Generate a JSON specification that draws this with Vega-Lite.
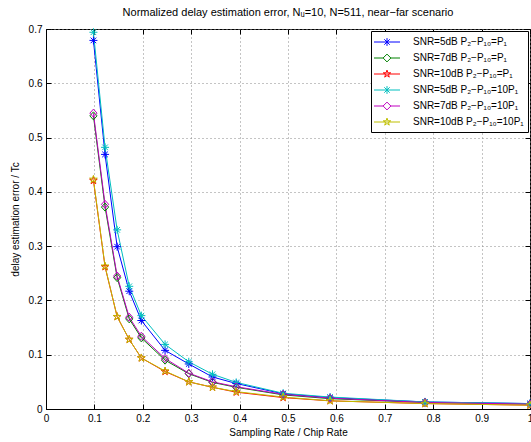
{
  "$schema": "https://vega.github.io/schema/vega-lite/v6.json",
  "width": 484,
  "height": 380,
  "autosize": "none",
  "padding": {"left": 46, "top": 29, "right": 1, "bottom": 33},
  "background": "white",
  "title": {"text": "Normalized delay estimation error, Nᵤ=10, N=511, near−far scenario", "fontSize": 11, "fontWeight": "normal", "font": "Liberation Sans", "offset": 6, "color": "black"},
  "config": {
    "view": {"stroke": "black", "strokeWidth": 1},
    "font": "Liberation Sans",
    "axis": {"labelFont": "Liberation Sans", "labelFontSize": 10, "labelColor": "black", "titleFont": "Liberation Sans", "titleFontSize": 10, "titleFontWeight": "normal", "titleColor": "black", "domainColor": "black", "tickColor": "black", "gridColor": "#888", "gridDash": [1, 3], "gridOpacity": 1}
  },
  "data": {"values": [
    {"s":"SNR=5dB P₂−P₁₀=P₁","x":0.098,"y":0.679},{"s":"SNR=5dB P₂−P₁₀=P₁","x":0.122,"y":0.469},{"s":"SNR=5dB P₂−P₁₀=P₁","x":0.147,"y":0.299},{"s":"SNR=5dB P₂−P₁₀=P₁","x":0.172,"y":0.217},{"s":"SNR=5dB P₂−P₁₀=P₁","x":0.197,"y":0.163},{"s":"SNR=5dB P₂−P₁₀=P₁","x":0.246,"y":0.108},{"s":"SNR=5dB P₂−P₁₀=P₁","x":0.295,"y":0.083},{"s":"SNR=5dB P₂−P₁₀=P₁","x":0.344,"y":0.059},{"s":"SNR=5dB P₂−P₁₀=P₁","x":0.393,"y":0.047},{"s":"SNR=5dB P₂−P₁₀=P₁","x":0.49,"y":0.028},{"s":"SNR=5dB P₂−P₁₀=P₁","x":0.587,"y":0.021},{"s":"SNR=5dB P₂−P₁₀=P₁","x":0.783,"y":0.013},{"s":"SNR=5dB P₂−P₁₀=P₁","x":1.0,"y":0.010},
    {"s":"SNR=7dB P₂−P₁₀=P₁","x":0.098,"y":0.540},{"s":"SNR=7dB P₂−P₁₀=P₁","x":0.122,"y":0.372},{"s":"SNR=7dB P₂−P₁₀=P₁","x":0.147,"y":0.242},{"s":"SNR=7dB P₂−P₁₀=P₁","x":0.172,"y":0.166},{"s":"SNR=7dB P₂−P₁₀=P₁","x":0.197,"y":0.131},{"s":"SNR=7dB P₂−P₁₀=P₁","x":0.246,"y":0.090},{"s":"SNR=7dB P₂−P₁₀=P₁","x":0.295,"y":0.065},{"s":"SNR=7dB P₂−P₁₀=P₁","x":0.344,"y":0.049},{"s":"SNR=7dB P₂−P₁₀=P₁","x":0.393,"y":0.040},{"s":"SNR=7dB P₂−P₁₀=P₁","x":0.49,"y":0.026},{"s":"SNR=7dB P₂−P₁₀=P₁","x":0.587,"y":0.019},{"s":"SNR=7dB P₂−P₁₀=P₁","x":0.783,"y":0.012},{"s":"SNR=7dB P₂−P₁₀=P₁","x":1.0,"y":0.009},
    {"s":"SNR=10dB P₂−P₁₀=P₁","x":0.098,"y":0.421},{"s":"SNR=10dB P₂−P₁₀=P₁","x":0.122,"y":0.262},{"s":"SNR=10dB P₂−P₁₀=P₁","x":0.147,"y":0.170},{"s":"SNR=10dB P₂−P₁₀=P₁","x":0.172,"y":0.128},{"s":"SNR=10dB P₂−P₁₀=P₁","x":0.197,"y":0.094},{"s":"SNR=10dB P₂−P₁₀=P₁","x":0.246,"y":0.069},{"s":"SNR=10dB P₂−P₁₀=P₁","x":0.295,"y":0.050},{"s":"SNR=10dB P₂−P₁₀=P₁","x":0.344,"y":0.040},{"s":"SNR=10dB P₂−P₁₀=P₁","x":0.393,"y":0.031},{"s":"SNR=10dB P₂−P₁₀=P₁","x":0.49,"y":0.021},{"s":"SNR=10dB P₂−P₁₀=P₁","x":0.587,"y":0.015},{"s":"SNR=10dB P₂−P₁₀=P₁","x":0.783,"y":0.010},{"s":"SNR=10dB P₂−P₁₀=P₁","x":1.0,"y":0.007},
    {"s":"SNR=5dB P₂−P₁₀=10P₁","x":0.098,"y":0.694},{"s":"SNR=5dB P₂−P₁₀=10P₁","x":0.122,"y":0.482},{"s":"SNR=5dB P₂−P₁₀=10P₁","x":0.147,"y":0.330},{"s":"SNR=5dB P₂−P₁₀=10P₁","x":0.172,"y":0.226},{"s":"SNR=5dB P₂−P₁₀=10P₁","x":0.197,"y":0.172},{"s":"SNR=5dB P₂−P₁₀=10P₁","x":0.246,"y":0.119},{"s":"SNR=5dB P₂−P₁₀=10P₁","x":0.295,"y":0.087},{"s":"SNR=5dB P₂−P₁₀=10P₁","x":0.344,"y":0.064},{"s":"SNR=5dB P₂−P₁₀=10P₁","x":0.393,"y":0.049},{"s":"SNR=5dB P₂−P₁₀=10P₁","x":0.49,"y":0.029},{"s":"SNR=5dB P₂−P₁₀=10P₁","x":0.587,"y":0.022},{"s":"SNR=5dB P₂−P₁₀=10P₁","x":0.783,"y":0.013},{"s":"SNR=5dB P₂−P₁₀=10P₁","x":1.0,"y":0.010},
    {"s":"SNR=7dB P₂−P₁₀=10P₁","x":0.098,"y":0.545},{"s":"SNR=7dB P₂−P₁₀=10P₁","x":0.122,"y":0.377},{"s":"SNR=7dB P₂−P₁₀=10P₁","x":0.147,"y":0.245},{"s":"SNR=7dB P₂−P₁₀=10P₁","x":0.172,"y":0.169},{"s":"SNR=7dB P₂−P₁₀=10P₁","x":0.197,"y":0.134},{"s":"SNR=7dB P₂−P₁₀=10P₁","x":0.246,"y":0.093},{"s":"SNR=7dB P₂−P₁₀=10P₁","x":0.295,"y":0.066},{"s":"SNR=7dB P₂−P₁₀=10P₁","x":0.344,"y":0.050},{"s":"SNR=7dB P₂−P₁₀=10P₁","x":0.393,"y":0.041},{"s":"SNR=7dB P₂−P₁₀=10P₁","x":0.49,"y":0.027},{"s":"SNR=7dB P₂−P₁₀=10P₁","x":0.587,"y":0.020},{"s":"SNR=7dB P₂−P₁₀=10P₁","x":0.783,"y":0.012},{"s":"SNR=7dB P₂−P₁₀=10P₁","x":1.0,"y":0.009},
    {"s":"SNR=10dB P₂−P₁₀=10P₁","x":0.098,"y":0.423},{"s":"SNR=10dB P₂−P₁₀=10P₁","x":0.122,"y":0.263},{"s":"SNR=10dB P₂−P₁₀=10P₁","x":0.147,"y":0.170},{"s":"SNR=10dB P₂−P₁₀=10P₁","x":0.172,"y":0.128},{"s":"SNR=10dB P₂−P₁₀=10P₁","x":0.197,"y":0.094},{"s":"SNR=10dB P₂−P₁₀=10P₁","x":0.246,"y":0.070},{"s":"SNR=10dB P₂−P₁₀=10P₁","x":0.295,"y":0.050},{"s":"SNR=10dB P₂−P₁₀=10P₁","x":0.344,"y":0.040},{"s":"SNR=10dB P₂−P₁₀=10P₁","x":0.393,"y":0.032},{"s":"SNR=10dB P₂−P₁₀=10P₁","x":0.49,"y":0.022},{"s":"SNR=10dB P₂−P₁₀=10P₁","x":0.587,"y":0.015},{"s":"SNR=10dB P₂−P₁₀=10P₁","x":0.783,"y":0.010},{"s":"SNR=10dB P₂−P₁₀=10P₁","x":1.0,"y":0.007}
  ]},
  "resolve": {"axis": {"x": "independent", "y": "independent"}, "scale": {"color": "independent", "shape": "independent"}, "legend": {"color": "independent", "shape": "independent"}},
  "layer": [
    {
      "mark": {"type": "line", "strokeWidth": 1},
      "encoding": {
        "x": {"field": "x", "type": "quantitative", "scale": {"domain": [0, 1], "nice": false},
              "axis": {"title": "Sampling Rate / Chip Rate", "values": [0,0.1,0.2,0.3,0.4,0.5,0.6,0.7,0.8,0.9,1], "format": "~g", "tickSize": -5, "labelPadding": 9, "titlePadding": 4, "labelFlush": false}},
        "y": {"field": "y", "type": "quantitative", "scale": {"domain": [0, 0.7], "nice": false, "zero": false},
              "axis": {"title": "delay estimation error / Tc", "values": [0,0.1,0.2,0.3,0.4,0.5,0.6,0.7], "format": "~g", "tickSize": -5, "labelPadding": 9, "titlePadding": 8, "labelFlush": false}},
        "color": {"field": "s", "type": "nominal", "sort": null,
          "scale": {"domain": ["SNR=5dB P₂−P₁₀=P₁","SNR=7dB P₂−P₁₀=P₁","SNR=10dB P₂−P₁₀=P₁","SNR=5dB P₂−P₁₀=10P₁","SNR=7dB P₂−P₁₀=10P₁","SNR=10dB P₂−P₁₀=10P₁"],
                    "range": ["#0000ff","#008000","#ff0000","#00bfbf","#bf00bf","#bfbf00"]},
          "legend": {"title": null, "orient": "top-right", "offset": 2, "strokeColor": "black", "fillColor": "white", "padding": 4, "labelFont": "Liberation Sans", "labelFontSize": 10, "labelColor": "black", "symbolSize": 169, "symbolStrokeWidth": 1, "symbolOffset": 5, "rowPadding": 3, "labelOffset": 19, "labelLimit": 300,
            "encode": {"symbols": {"update": {"fill": {"value": "transparent"}, "shape": {"signal": "indexof(datum.value, 'SNR=5dB') == 0 ? 'M-2,0L2,0M0,-0.6L0,0.6M-0.42,-0.42L0.42,0.42M-0.42,0.42L0.42,-0.42' : (indexof(datum.value, 'SNR=7dB') == 0 ? 'M-2,0L-0.6,0M0.6,0L2,0M0,-0.6L0.6,0L0,0.6L-0.6,0Z' : 'M-2,0L2,0M0,-0.6L0.135,-0.185L0.571,-0.185L0.218,0.071L0.353,0.485L0,0.229L-0.353,0.485L-0.218,0.071L-0.571,-0.185L-0.135,-0.185Z')"}}}}}
        }
      }
    },
    {
      "mark": {"type": "point", "filled": false, "strokeWidth": 1, "size": 64, "opacity": 1},
      "encoding": {
        "x": {"field": "x", "type": "quantitative", "axis": {"orient": "top", "title": null, "labels": false, "grid": false, "domain": false, "values": [0,0.1,0.2,0.3,0.4,0.5,0.6,0.7,0.8,0.9,1], "tickSize": -5}},
        "y": {"field": "y", "type": "quantitative", "axis": {"orient": "right", "title": null, "labels": false, "grid": false, "domain": false, "values": [0,0.1,0.2,0.3,0.4,0.5,0.6,0.7], "tickSize": -5}},
        "color": {"field": "s", "type": "nominal", "sort": null, "legend": null,
          "scale": {"domain": ["SNR=5dB P₂−P₁₀=P₁","SNR=7dB P₂−P₁₀=P₁","SNR=10dB P₂−P₁₀=P₁","SNR=5dB P₂−P₁₀=10P₁","SNR=7dB P₂−P₁₀=10P₁","SNR=10dB P₂−P₁₀=10P₁"],
                    "range": ["#0000ff","#008000","#ff0000","#00bfbf","#bf00bf","#bfbf00"]}},
        "shape": {"field": "s", "type": "nominal", "sort": null, "legend": null,
          "scale": {"domain": ["SNR=5dB P₂−P₁₀=P₁","SNR=7dB P₂−P₁₀=P₁","SNR=10dB P₂−P₁₀=P₁","SNR=5dB P₂−P₁₀=10P₁","SNR=7dB P₂−P₁₀=10P₁","SNR=10dB P₂−P₁₀=10P₁"],
                    "range": ["M-1,0L1,0M0,-1L0,1M-0.7,-0.7L0.7,0.7M-0.7,0.7L0.7,-0.7", "M0,-1L0.9,0L0,1L-0.9,0Z", "M0,-1L0.225,-0.309L0.951,-0.309L0.363,0.118L0.588,0.809L0,0.382L-0.588,0.809L-0.363,0.118L-0.951,-0.309L-0.225,-0.309Z", "M-1,0L1,0M0,-1L0,1M-0.7,-0.7L0.7,0.7M-0.7,0.7L0.7,-0.7", "M0,-1L0.9,0L0,1L-0.9,0Z", "M0,-1L0.225,-0.309L0.951,-0.309L0.363,0.118L0.588,0.809L0,0.382L-0.588,0.809L-0.363,0.118L-0.951,-0.309L-0.225,-0.309Z"]}}
      }
    }
  ]
}
